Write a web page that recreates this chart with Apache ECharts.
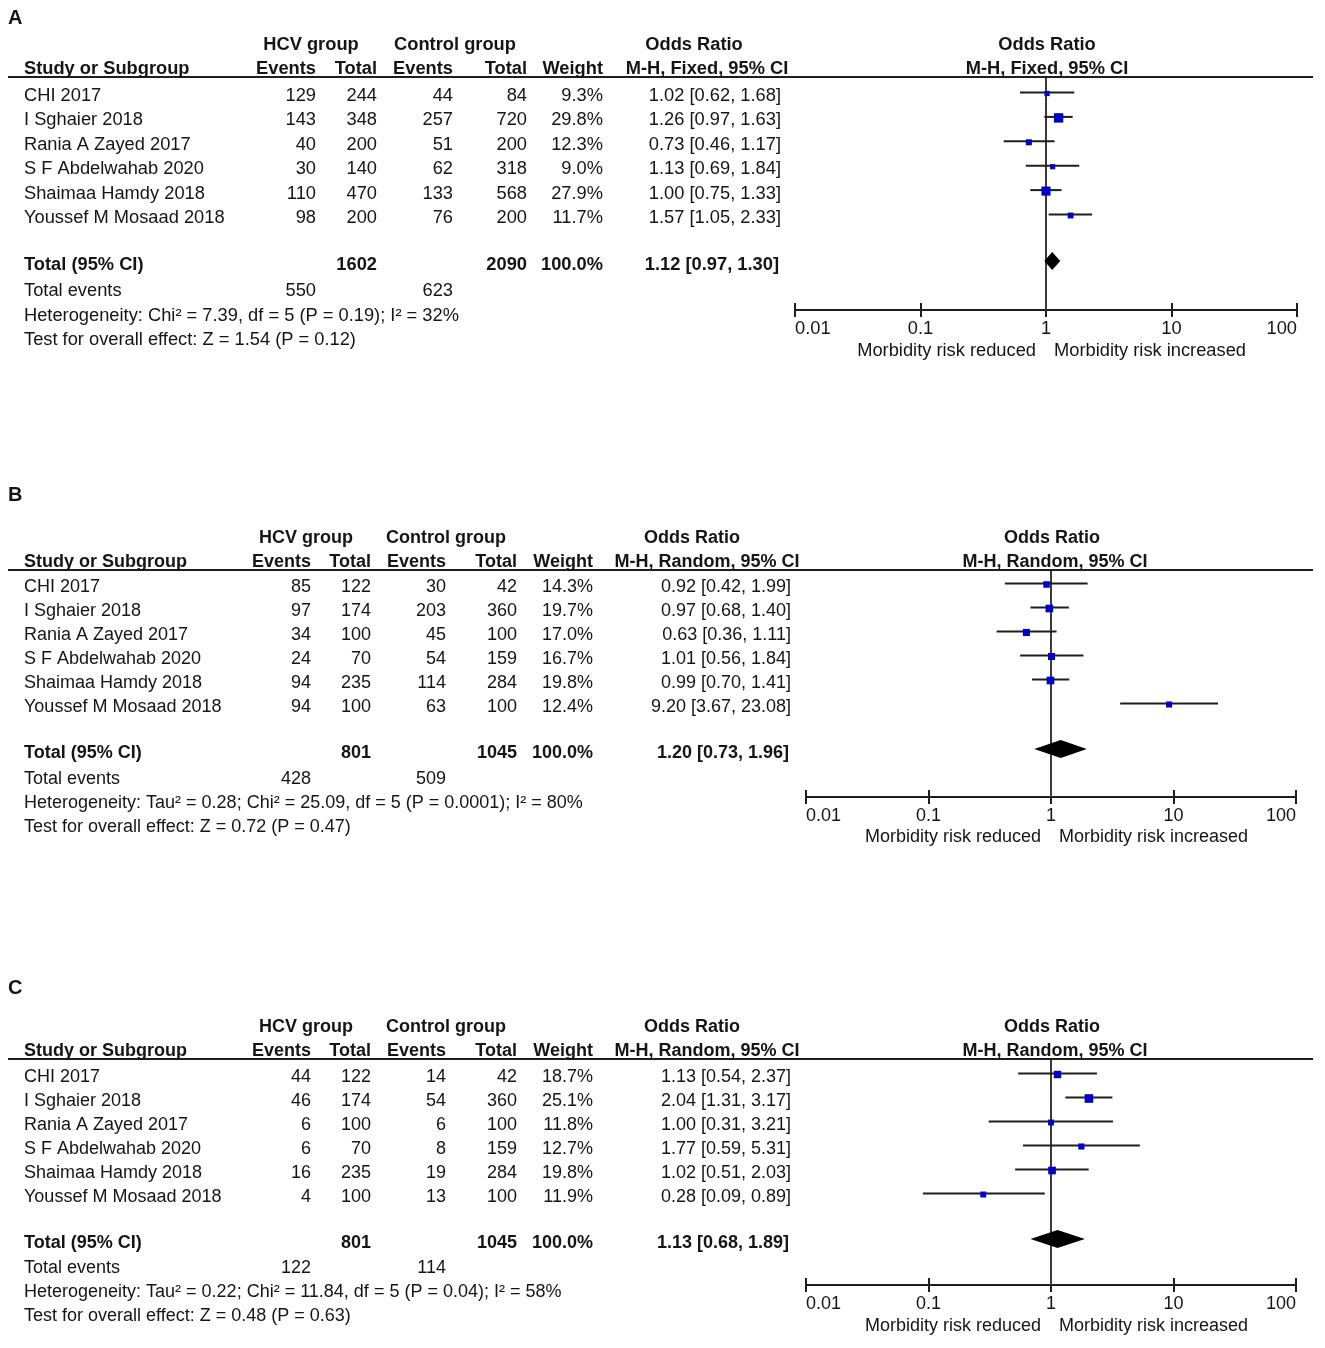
<!DOCTYPE html>
<html><head><meta charset="utf-8">
<script src="https://cdn.jsdelivr.net/npm/echarts@6/dist/echarts.min.js"></script>
<style>html,body{margin:0;padding:0;background:#fff}#chart{width:1325px;height:1348px}</style>
</head><body><div id="chart"></div>
<script>
// ---------------- DATA ----------------
const studies = ['CHI 2017','I Sghaier 2018','Rania A Zayed 2017','S F Abdelwahab 2020','Shaimaa Hamdy 2018','Youssef M Mosaad 2018'];
const tickLabels = ['0.01','0.1','1','10','100'];
const panelLabels = ['A','B','C'];
const methods = ['M-H, Fixed, 95% CI','M-H, Random, 95% CI','M-H, Random, 95% CI'];

// Panel A
const aHcvEvents = [129,143,40,30,110,98];
const aHcvTotal  = [244,348,200,140,470,200];
const aCtlEvents = [44,257,51,62,133,76];
const aCtlTotal  = [84,720,200,318,568,200];
const aWeight    = [9.3,29.8,12.3,9.0,27.9,11.7];
const aOR        = [1.02,1.26,0.73,1.13,1.00,1.57];
const aLo        = [0.62,0.97,0.46,0.69,0.75,1.05];
const aHi        = [1.68,1.63,1.17,1.84,1.33,2.33];
const aTotals    = [1602,2090];
const aTotalOR   = [1.12,0.97,1.30];
const aTotalEvents = [550,623];
const aHet  = 'Heterogeneity: Chi² = 7.39, df = 5 (P = 0.19); I² = 32%';
const aTest = 'Test for overall effect: Z = 1.54 (P = 0.12)';

// Panel B
const bHcvEvents = [85,97,34,24,94,94];
const bHcvTotal  = [122,174,100,70,235,100];
const bCtlEvents = [30,203,45,54,114,63];
const bCtlTotal  = [42,360,100,159,284,100];
const bWeight    = [14.3,19.7,17.0,16.7,19.8,12.4];
const bOR        = [0.92,0.97,0.63,1.01,0.99,9.20];
const bLo        = [0.42,0.68,0.36,0.56,0.70,3.67];
const bHi        = [1.99,1.40,1.11,1.84,1.41,23.08];
const bTotals    = [801,1045];
const bTotalOR   = [1.20,0.73,1.96];
const bTotalEvents = [428,509];
const bHet  = 'Heterogeneity: Tau² = 0.28; Chi² = 25.09, df = 5 (P = 0.0001); I² = 80%';
const bTest = 'Test for overall effect: Z = 0.72 (P = 0.47)';

// Panel C
const cHcvEvents = [44,46,6,6,16,4];
const cHcvTotal  = [122,174,100,70,235,100];
const cCtlEvents = [14,54,6,8,19,13];
const cCtlTotal  = [42,360,100,159,284,100];
const cWeight    = [18.7,25.1,11.8,12.7,19.8,11.9];
const cOR        = [1.13,2.04,1.00,1.77,1.02,0.28];
const cLo        = [0.54,1.31,0.31,0.59,0.51,0.09];
const cHi        = [2.37,3.17,3.21,5.31,2.03,0.89];
const cTotals    = [801,1045];
const cTotalOR   = [1.13,0.68,1.89];
const cTotalEvents = [122,114];
const cHet  = 'Heterogeneity: Tau² = 0.22; Chi² = 11.84, df = 5 (P = 0.04); I² = 58%';
const cTest = 'Test for overall effect: Z = 0.48 (P = 0.63)';

const panelsData = [
  {hcvE:aHcvEvents,hcvT:aHcvTotal,ctlE:aCtlEvents,ctlT:aCtlTotal,w:aWeight,or:aOR,lo:aLo,hi:aHi,totals:aTotals,tor:aTotalOR,tev:aTotalEvents,het:aHet,test:aTest},
  {hcvE:bHcvEvents,hcvT:bHcvTotal,ctlE:bCtlEvents,ctlT:bCtlTotal,w:bWeight,or:bOR,lo:bLo,hi:bHi,totals:bTotals,tor:bTotalOR,tev:bTotalEvents,het:bHet,test:bTest},
  {hcvE:cHcvEvents,hcvT:cHcvTotal,ctlE:cCtlEvents,ctlT:cCtlTotal,w:cWeight,or:cOR,lo:cLo,hi:cHi,totals:cTotals,tor:cTotalOR,tev:cTotalEvents,het:cHet,test:cTest}
];

// ---------------- LAYOUT ----------------
const LAYOUT = [
  {fs:18.3, labelY:18, h1:45, h2:69, line:77, row0:96, step:24.4, total:265, totEv:291, het:316, test:340, axis:310, morb:351,
   gL:795, gR:1297, ev:316, tot:377, cev:453, ctot:527, w:603, orR:781, hcvC:311, ctlC:455, orHdrC:694, mhC:707, plotHdrC:1047, plotMhC:1047, morbL:1036, morbR:1054},
  {fs:18, labelY:495, h1:538, h2:562, line:570, row0:587, step:24, total:753, totEv:779, het:803, test:827, axis:797, morb:837,
   gL:806, gR:1296, ev:311, tot:371, cev:446, ctot:517, w:593, orR:791, hcvC:306, ctlC:446, orHdrC:692, mhC:707, plotHdrC:1052, plotMhC:1055, morbL:1041, morbR:1059},
  {fs:18, labelY:988, h1:1027, h2:1051, line:1059, row0:1077, step:24, total:1243, totEv:1268, het:1292, test:1316, axis:1285, morb:1326,
   gL:806, gR:1296, ev:311, tot:371, cev:446, ctot:517, w:593, orR:791, hcvC:306, ctlC:446, orHdrC:692, mhC:707, plotHdrC:1052, plotMhC:1055, morbL:1041, morbR:1059}
];
const FONT = '"Liberation Sans", Arial, Helvetica, sans-serif';
const TXT = '#151515';
const MARK_OFF = 3.5;
const BOX_K = 1.72;

let FS = 18;
function txt(x, y, text, align, bold, size) {
  return {type:'text', x:x, y:y, silent:true, z:10,
    style:{text:String(text), textAlign:align||'left', textVerticalAlign:'middle',
      fontSize:size||FS, fontWeight:bold?'bold':'normal', fontFamily:FONT, fill:TXT}};
}
const f2 = v => v.toFixed(2);
const orStr = (o,l,h) => f2(o) + ' [' + f2(l) + ', ' + f2(h) + ']';

const graphics = [];
const grids = [], xAxes = [], yAxes = [], series = [];

function ciRender(params, api) {
  const y = api.value(4);
  const p = api.coord([api.value(0), y]);
  const pl = api.coord([api.value(1), y]);
  const ph = api.coord([api.value(2), y]);
  const s = BOX_K * Math.sqrt(api.value(3));
  return {type:'group', children:[
    {type:'line', shape:{x1:pl[0], y1:pl[1], x2:ph[0], y2:ph[1]}, style:{stroke:'#1e1e1e', lineWidth:2}},
    {type:'rect', shape:{x:p[0]-s/2, y:p[1]-s/2 + 1, width:s, height:s}, style:{fill:'#0000C8'}}
  ]};
}
function diamondRender(params, api) {
  const y = api.value(3);
  const c = api.coord([api.value(0), y]);
  const l = api.coord([api.value(1), y]);
  const h = api.coord([api.value(2), y]);
  const hh = 9;
  return {type:'polygon', shape:{points:[[l[0],c[1]],[c[0],c[1]-hh],[h[0],c[1]],[c[0],c[1]+hh]]}, style:{fill:'#000'}};
}

panelsData.forEach((d, k) => {
  const L = LAYOUT[k];
  FS = L.fs;
  // texts
  graphics.push(txt(8, L.labelY, panelLabels[k], 'left', true, 20));
  graphics.push(txt(L.hcvC, L.h1, 'HCV group', 'center', true));
  graphics.push(txt(L.ctlC, L.h1, 'Control group', 'center', true));
  graphics.push(txt(L.orHdrC, L.h1, 'Odds Ratio', 'center', true));
  graphics.push(txt(L.plotHdrC, L.h1, 'Odds Ratio', 'center', true));
  graphics.push(txt(24, L.h2, 'Study or Subgroup', 'left', true));
  graphics.push(txt(L.ev, L.h2, 'Events', 'right', true));
  graphics.push(txt(L.tot, L.h2, 'Total', 'right', true));
  graphics.push(txt(L.cev, L.h2, 'Events', 'right', true));
  graphics.push(txt(L.ctot, L.h2, 'Total', 'right', true));
  graphics.push(txt(L.w, L.h2, 'Weight', 'right', true));
  graphics.push(txt(L.mhC, L.h2, methods[k], 'center', true));
  graphics.push(txt(L.plotMhC, L.h2, methods[k], 'center', true));
  graphics.push({type:'line', silent:true, z:9, shape:{x1:8, y1:L.line, x2:1313, y2:L.line}, style:{stroke:'#1e1e1e', lineWidth:2}});
  studies.forEach((s, i) => {
    const y = L.row0 + L.step * i;
    graphics.push(txt(24, y, s, 'left'));
    graphics.push(txt(L.ev, y, d.hcvE[i], 'right'));
    graphics.push(txt(L.tot, y, d.hcvT[i], 'right'));
    graphics.push(txt(L.cev, y, d.ctlE[i], 'right'));
    graphics.push(txt(L.ctot, y, d.ctlT[i], 'right'));
    graphics.push(txt(L.w, y, d.w[i].toFixed(1) + '%', 'right'));
    graphics.push(txt(L.orR, y, orStr(d.or[i], d.lo[i], d.hi[i]), 'right'));
  });
  graphics.push(txt(24, L.total, 'Total (95% CI)', 'left', true));
  graphics.push(txt(L.tot, L.total, d.totals[0], 'right', true));
  graphics.push(txt(L.ctot, L.total, d.totals[1], 'right', true));
  graphics.push(txt(L.w, L.total, '100.0%', 'right', true));
  graphics.push(txt(L.orR - 2, L.total, orStr(d.tor[0], d.tor[1], d.tor[2]), 'right', true));
  graphics.push(txt(24, L.totEv, 'Total events', 'left'));
  graphics.push(txt(L.ev, L.totEv, d.tev[0], 'right'));
  graphics.push(txt(L.cev, L.totEv, d.tev[1], 'right'));
  graphics.push(txt(24, L.het, d.het, 'left'));
  graphics.push(txt(24, L.test, d.test, 'left'));
  graphics.push(txt(L.morbL, L.morb, 'Morbidity risk reduced', 'right'));
  graphics.push(txt(L.morbR, L.morb, 'Morbidity risk increased', 'left'));

  // grid + axes
  const top = L.line, height = L.axis - L.line;
  const yMin = -((L.row0 - MARK_OFF) - top) / L.step;
  const yMax = yMin + height / L.step;
  const totalIdx = ((L.total - 4) - (L.row0 - MARK_OFF)) / L.step;
  grids.push({left:L.gL, width:L.gR - L.gL, top:top, height:height, containLabel:false});
  const axBase = {type:'log', logBase:10, min:0.01, max:100, gridIndex:k, splitLine:{show:false}, minorTick:{show:false}};
  // main axis at bottom: line, downward ticks, labels
  xAxes.push(Object.assign({}, axBase, {
    position:'bottom',
    axisLine:{show:true, onZero:false, lineStyle:{color:'#1e1e1e', width:2}},
    axisTick:{show:true, inside:false, length:7, lineStyle:{color:'#1e1e1e', width:2}},
    axisLabel:{show:true, margin:10, fontSize:L.fs, fontFamily:FONT, color:TXT, alignMinLabel:'left', alignMaxLabel:'right',
      formatter: v => tickLabels[Math.round(Math.log10(v)) + 2]}
  }));
  // companion top axis shifted down onto the bottom line: upward ticks
  xAxes.push(Object.assign({}, axBase, {
    position:'top', offset:-height,
    axisLine:{show:false, onZero:false}, axisLabel:{show:false},
    axisTick:{show:true, inside:false, length:7, lineStyle:{color:'#1e1e1e', width:2}}
  }));
  yAxes.push({type:'value', gridIndex:k, inverse:true, min:yMin, max:yMax, show:false, splitLine:{show:false}});

  const xi = k * 2;
  series.push({type:'line', xAxisIndex:xi, yAxisIndex:k, silent:true, symbol:'none', z:1,
    data:[[1, yMin],[1, yMax]], lineStyle:{color:'#3a3a3a', width:2}});
  series.push({type:'custom', xAxisIndex:xi, yAxisIndex:k, silent:true, z:3, renderItem:ciRender,
    encode:{x:[0,1,2], y:4},
    data: studies.map((s, i) => [d.or[i], d.lo[i], d.hi[i], d.w[i], i])});
  series.push({type:'custom', xAxisIndex:xi, yAxisIndex:k, silent:true, z:3, renderItem:diamondRender,
    encode:{x:[0,1,2], y:3},
    data:[[d.tor[0], d.tor[1], d.tor[2], totalIdx]]});
});

const chart = echarts.init(document.getElementById('chart'), null, {renderer:'canvas'});
chart.setOption({
  backgroundColor:'#ffffff',
  animation:false,
  grid:grids, xAxis:xAxes, yAxis:yAxes, series:series,
  graphic:{elements:graphics}
});
</script></body></html>
